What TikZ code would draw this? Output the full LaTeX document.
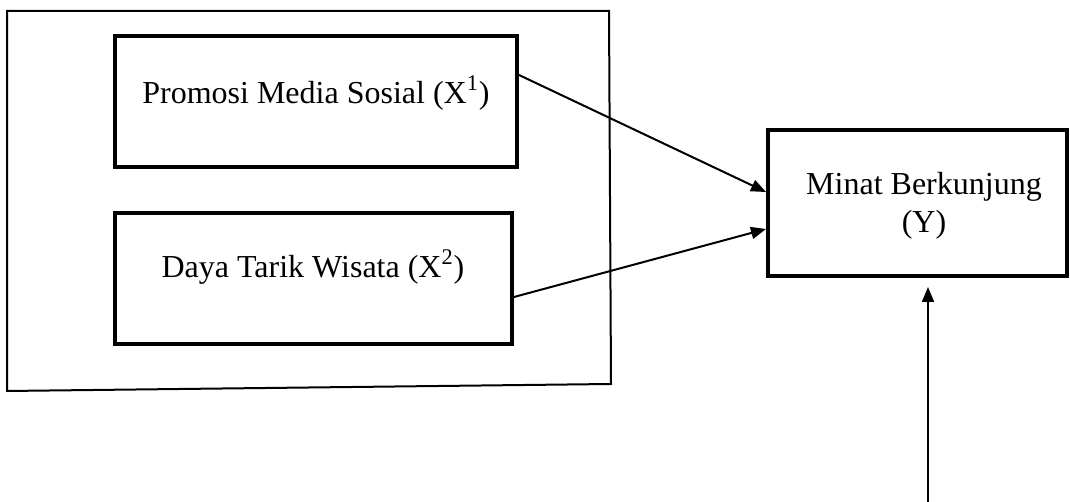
\documentclass[tikz,border=0pt]{standalone}
\usepackage{fontspec}
\setmainfont{Liberation Serif}
\usetikzlibrary{arrows.meta,positioning}
\tikzset{
  kotak/.style={draw, line width=2pt, minimum height=65.5pt},
  teks/.style={font=\fontsize{16}{19}\selectfont, align=center},
  panah/.style={-{Triangle[length=7.5pt,width=6pt]}, line width=1pt}
}
\begin{document}
\begin{tikzpicture}[x=0.5pt, y=0.5pt]
	\useasboundingbox (0,0) rectangle (1070,502);
	% Rahmen um X1 und X2
	\draw[line width=1pt] (7,491) -- (609,491) -- (611,118) -- (7,111) -- cycle;
	% Kaesten zeichnen
	\node[kotak, minimum width=201pt] (promosi) at (316,400.5) {};
	\node[kotak, minimum width=198.5pt] (daya) at (313.5,223.5) {};
	\node[kotak, minimum width=149.5pt, minimum height=73pt] (minat) at (917.5,299) {};
	% Beschriftungen
	\node[teks] (tpromosi) at (316,409) {Promosi Media Sosial (X\textsuperscript{1})};
	\node[teks] (tdaya) at (313,235) {Daya Tarik Wisata (X\textsuperscript{2})};
	\node[teks] (tminat) at (924,296) {Minat Berkunjung\\(Y)};
	% Pfeile einzeichnen
	\draw[panah] ([yshift=13.25pt]promosi.east) -- ([yshift=5.5pt]minat.west);
	\draw[panah] ([yshift=-9.25pt]daya.east) -- ([yshift=-13pt]minat.west);
	\coordinate (bawah) at (928,0);
	\draw[panah, shorten >=4.5pt] (bawah) -- (bawah |- minat.south);
\end{tikzpicture}
\end{document}
